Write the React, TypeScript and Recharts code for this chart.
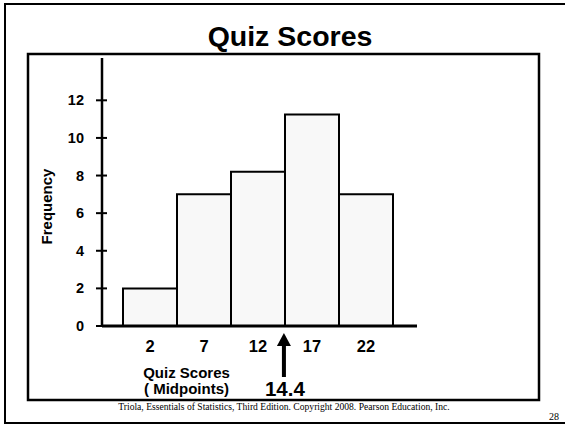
import React from "react";
import { BarChart, Bar, XAxis, YAxis, ReferenceLine } from "recharts";

// class midpoints and frequencies
const MIDPOINTS = [2, 7, 12, 17, 22];
const FREQUENCIES = [2, 7, 8.2, 11.25, 7];
const Y_TICKS = [0, 2, 4, 6, 8, 10, 12];
const MEAN = 14.4;

const data = MIDPOINTS.map((m, i) => ({ mid: m, freq: FREQUENCIES[i] }));

const SANS = "'Liberation Sans', Arial, Helvetica, sans-serif";
const SERIF = "'Liberation Serif', 'Times New Roman', serif";
const Y_TICK_MARGIN = 18;

function YTick(props: any) {
    const { x, y, payload } = props;
    const ax = x + Y_TICK_MARGIN;
    return (
        <g>
            <line x1={ax - 6} x2={ax + 5} y1={y} y2={y} stroke="#000" strokeWidth={2} />
            <text
                x={x}
                y={y}
                dy={5}
                textAnchor="end"
                fontFamily={SANS}
                fontWeight="bold"
                fontSize={14.5}
                fill="#000"
            >
                {payload.value}
            </text>
        </g>
    );
}

function XTick(props: any) {
    const { x, y, payload } = props;
    return (
        <text
            x={x}
            y={y}
            dy={11.5}
            textAnchor="middle"
            fontFamily={SANS}
            fontWeight="bold"
            fontSize={16.5}
            fill="#000"
        >
            {payload.value}
        </text>
    );
}

function MeanArrow(props: any) {
    const { x1, y1, y2 } = props;
    const base = Math.max(y1, y2);
    const cx = x1;
    return (
        <g>
            <rect x={cx - 2} y={base + 18} width={4} height={33} fill="#000" />
            <polygon
                points={`${cx},${base + 7} ${cx - 7},${base + 20} ${cx + 7},${base + 20}`}
                fill="#000"
            />
            <text
                x={cx + 1}
                y={base + 70}
                textAnchor="middle"
                fontFamily={SANS}
                fontWeight="bold"
                fontSize={20.5}
                fill="#000"
            >
                {MEAN}
            </text>
        </g>
    );
}

export default function App() {
    return (
        <div style={{ position: "absolute", left: 0, top: 0, width: 565, height: 424, background: "#fff" }}>
            <svg width={565} height={424} style={{ position: "absolute", left: 0, top: 0 }}>
                <rect x={5} y={4} width={570} height={419} fill="none" stroke="#000" strokeWidth={2} />
                <rect x={28} y={54} width={511} height={346} fill="none" stroke="#000" strokeWidth={2.5} />
                <text x={290} y={46} textAnchor="middle" fontFamily={SANS} fontWeight="bold" fontSize={28.5}>
                    Quiz Scores
                </text>
                <text
                    transform="translate(52,206.5) rotate(-90)"
                    textAnchor="middle"
                    fontFamily={SANS}
                    fontWeight="bold"
                    fontSize={15}
                >
                    Frequency
                </text>
                <text x={186.5} y={378} textAnchor="middle" fontFamily={SANS} fontWeight="bold" fontSize={15}>
                    Quiz Scores
                </text>
                <text x={186.5} y={393.5} textAnchor="middle" fontFamily={SANS} fontWeight="bold" fontSize={15}>
                    ( Midpoints)
                </text>
                <text x={284} y={410} textAnchor="middle" fontFamily={SERIF} fontSize={9.6}>
                    Triola, Essentials of Statistics, Third Edition. Copyright  2008.  Pearson Education, Inc.
                </text>
                <text x={554} y={420} textAnchor="middle" fontFamily={SERIF} fontSize={10}>
                    28
                </text>
            </svg>
            <div style={{ position: "absolute", left: 0, top: 0 }}>
                <BarChart
                    width={565}
                    height={424}
                    data={data}
                    margin={{ top: 58, right: 148, bottom: 68, left: 42 }}
                    barCategoryGap={0}
                >
                    <XAxis
                        dataKey="mid"
                        type="number"
                        domain={[-0.5, 24.5]}
                        ticks={MIDPOINTS}
                        padding={{ left: 21, right: 24 }}
                        height={30}
                        tickLine={false}
                        tickSize={0}
                        tickMargin={14}
                        axisLine={{ stroke: "#000", strokeWidth: 3 }}
                        tick={<XTick />}
                        interval={0}
                    />
                    <YAxis
                        type="number"
                        domain={[0, 14.25]}
                        ticks={Y_TICKS}
                        width={60}
                        tickLine={false}
                        tickSize={0}
                        tickMargin={Y_TICK_MARGIN}
                        axisLine={{ stroke: "#000", strokeWidth: 2.5 }}
                        tick={<YTick />}
                        interval={0}
                    />
                    <Bar
                        dataKey="freq"
                        fill="#f8f8f8"
                        stroke="#000"
                        strokeWidth={2}
                        isAnimationActive={false}
                    />
                    <ReferenceLine x={MEAN} shape={(p: any) => <MeanArrow {...p} />} />
                </BarChart>
            </div>
        </div>
    );
}
